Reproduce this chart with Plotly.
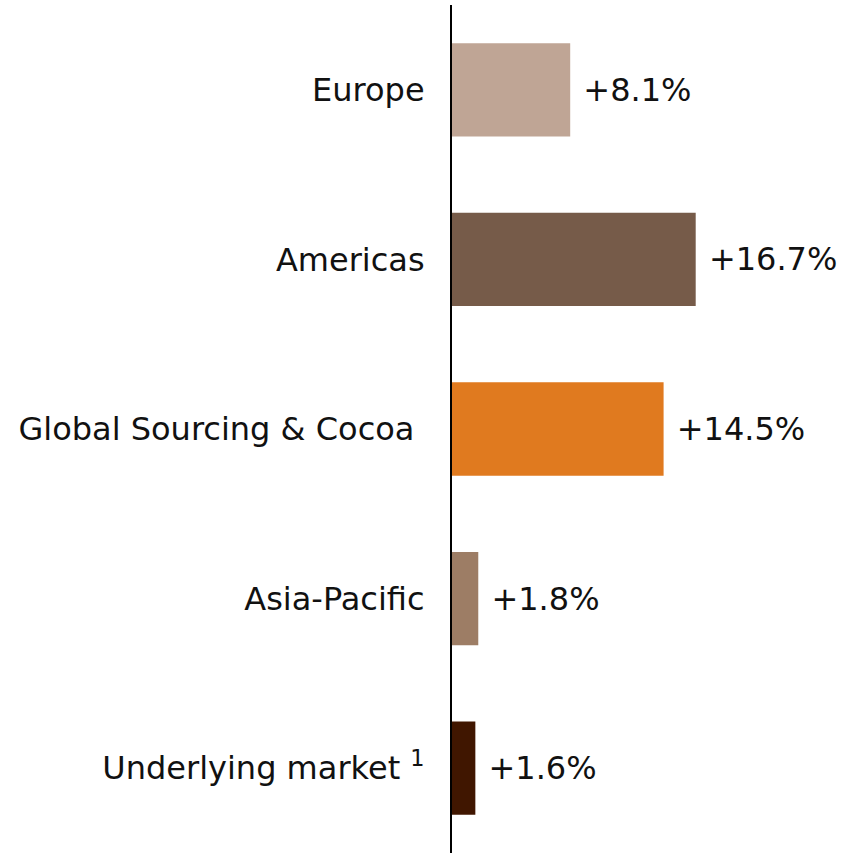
import plotly.graph_objs as go

# data
categories = ['Europe', 'Americas', 'Global Sourcing & Cocoa\u00a0', 'Asia-Pacific', 'Underlying market <sup>1</sup>']
growth = [8.1, 16.7, 14.5, 1.8, 1.6]
labels = ['+8.1%', '+16.7%', '+14.5%', '+1.8%', '+1.6%']
colors = ['#BFA595', '#765B49', '#E07A1F', '#9D7D65', '#401600']

font_family = 'DejaVu Sans, Verdana, sans-serif'

fig = go.Figure()
fig.add_trace(go.Bar(
    y=categories,
    x=growth,
    orientation='h',
    marker=dict(color=colors, line=dict(width=0)),
    width=0.55,
    text=['\u00a0' + t for t in labels],
    textposition='outside',
    constraintext='none',
    textfont=dict(family=font_family, size=32, color='#111111'),
    cliponaxis=False,
))

fig.update_layout(
    width=846, height=853,
    margin=dict(l=452, r=0, t=5, b=0, autoexpand=False),
    plot_bgcolor='white', paper_bgcolor='white',
    showlegend=False,
    font=dict(family=font_family, size=32, color='#111111'),
    xaxis=dict(range=[0, 27], visible=False, showgrid=False, zeroline=False, automargin=False),
    yaxis=dict(autorange='reversed', showline=True, linecolor='black', linewidth=2,
               showgrid=False, zeroline=False, ticks='', ticklabelstandoff=19, automargin=False,
               tickfont=dict(family=font_family, size=32, color='#111111')),
)

# page has a default body margin, drop it so the chart sits at the window corner
fig.write_html("out.html", config={'displayModeBar': False},
               post_script="document.body.style.margin='0';")
